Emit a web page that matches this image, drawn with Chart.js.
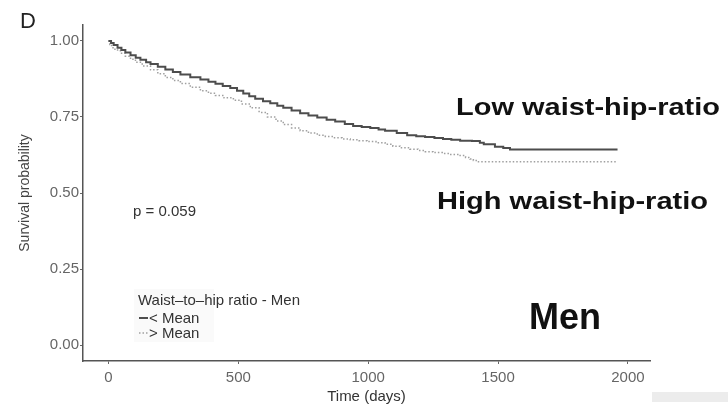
<!DOCTYPE html>
<html><head><meta charset="utf-8">
<script src="https://cdn.jsdelivr.net/npm/chart.js@4"></script>
<style>html,body{margin:0;padding:0;background:#fff}#wrap{width:728px;height:408px;position:relative}</style>
</head><body><div id="wrap"><canvas id="c" width="728" height="408"></canvas></div>
<script>
// Kaplan-Meier steps (time in days, survival probability)
const lowTimes  = [0, 10, 20, 35, 50, 65, 85, 105, 123, 145, 162, 190, 219, 248, 277, 315, 354, 385, 412, 440, 469, 495, 519, 542, 565, 595, 623, 650, 673, 705, 738, 770, 804, 840, 873, 910, 942, 975, 1008, 1040, 1065, 1110, 1150, 1185, 1219, 1255, 1288, 1320, 1354, 1400, 1430, 1445, 1488, 1520, 1546, 1960];
const lowSurv   = [1.000, 0.993, 0.987, 0.978, 0.970, 0.962, 0.953, 0.945, 0.938, 0.930, 0.924, 0.915, 0.906, 0.898, 0.890, 0.881, 0.873, 0.866, 0.859, 0.852, 0.845, 0.836, 0.827, 0.818, 0.810, 0.802, 0.795, 0.787, 0.780, 0.771, 0.762, 0.755, 0.748, 0.741, 0.735, 0.727, 0.720, 0.717, 0.714, 0.709, 0.705, 0.697, 0.690, 0.687, 0.684, 0.681, 0.678, 0.675, 0.672, 0.671, 0.665, 0.660, 0.652, 0.648, 0.643, 0.643];
const highTimes = [0, 5, 12, 25, 46, 65, 85, 104, 130, 162, 190, 219, 248, 277, 315, 354, 385, 412, 445, 481, 512, 546, 580, 612, 645, 673, 705, 738, 770, 804, 835, 865, 900, 931, 965, 996, 1030, 1065, 1095, 1123, 1160, 1192, 1220, 1250, 1285, 1315, 1354, 1375, 1392, 1405, 1419, 1960];
const highSurv  = [1.000, 0.988, 0.978, 0.970, 0.960, 0.950, 0.940, 0.930, 0.918, 0.905, 0.892, 0.880, 0.870, 0.860, 0.848, 0.836, 0.828, 0.821, 0.813, 0.805, 0.793, 0.780, 0.765, 0.750, 0.737, 0.725, 0.714, 0.705, 0.697, 0.690, 0.686, 0.682, 0.678, 0.675, 0.672, 0.669, 0.665, 0.660, 0.654, 0.649, 0.644, 0.640, 0.636, 0.633, 0.630, 0.627, 0.623, 0.617, 0.612, 0.607, 0.603, 0.603];
const xTicks = [0, 500, 1000, 1500, 2000];
const yTicks = [0, 0.25, 0.5, 0.75, 1.0];
const seriesNames = ["< Mean", "> Mean"];
const legendTitle = "Waist\u2013to\u2013hip ratio - Men";
const pText = "p = 0.059";
const panelLabel = "D";
const lowLabel = "Low waist-hip-ratio";
const highLabel = "High waist-hip-ratio";
const groupLabel = "Men";

const toPts = (t, s) => t.map((v, i) => ({x: v, y: s[i]}));
const FONT = "'Liberation Sans', Arial, Helvetica, sans-serif";

function wideText(ctx, text, x, y, targetW) {
  const w = ctx.measureText(text).width;
  ctx.save();
  ctx.translate(x, y);
  ctx.scale(targetW / w, 1);
  ctx.fillText(text, 0, 0);
  ctx.restore();
}

const annot = {
  id: 'annot',
  afterDraw(chart) {
    const ctx = chart.ctx;
    ctx.save();
    ctx.textBaseline = 'alphabetic';
    ctx.textAlign = 'left';
    // panel letter
    ctx.fillStyle = '#222';
    ctx.font = '22px ' + FONT;
    ctx.fillText(panelLabel, 20, 28);
    // big labels
    ctx.fillStyle = '#111';
    ctx.font = 'bold 24px ' + FONT;
    wideText(ctx, lowLabel, 456, 115, 264);
    wideText(ctx, highLabel, 437, 209, 271);
    ctx.font = 'bold 36px ' + FONT;
    ctx.fillText(groupLabel, 529, 329);
    // p value
    ctx.fillStyle = '#333';
    ctx.font = '15px ' + FONT;
    ctx.fillText(pText, 133, 216);
    // legend
    ctx.fillStyle = '#fafafa';
    ctx.fillRect(134, 289, 80, 53);
    ctx.fillStyle = '#333';
    ctx.font = '15px ' + FONT;
    ctx.fillText(legendTitle, 138, 305);
    const ds = chart.data.datasets;
    const rows = [323, 338];
    ds.forEach((d, i) => {
      ctx.save();
      ctx.strokeStyle = d.borderColor;
      ctx.lineWidth = d.borderWidth;
      ctx.setLineDash(d.borderDash || []);
      ctx.beginPath();
      ctx.moveTo(139, rows[i] - 5);
      ctx.lineTo(148, rows[i] - 5);
      ctx.stroke();
      ctx.restore();
      ctx.fillStyle = '#333';
      ctx.fillText(d.label, 149, rows[i]);
    });
    // light band bottom right
    ctx.fillStyle = '#ececec';
    ctx.fillRect(652, 392, 76, 10);
    ctx.restore();
  }
};

new Chart(document.getElementById('c'), {
  type: 'line',
  data: {
    datasets: [
      { label: seriesNames[0], data: toPts(lowTimes, lowSurv), stepped: 'before',
        borderColor: '#4d4d4d', borderWidth: 2, pointRadius: 0, fill: false },
      { label: seriesNames[1], data: toPts(highTimes, highSurv), stepped: 'before',
        borderColor: '#a0a0a0', borderWidth: 1.5, borderDash: [1.5, 2], pointRadius: 0, fill: false }
    ]
  },
  plugins: [annot],
  options: {
    responsive: false,
    animation: false,
    events: [],
    layout: { padding: { left: 0, right: 78, top: 25, bottom: 0 } },
    plugins: { legend: { display: false }, tooltip: { enabled: false } },
    scales: {
      x: {
        type: 'linear', min: -98, max: 2085,
        afterBuildTicks: s => { s.ticks = xTicks.map(v => ({value: v})); },
        afterFit: s => { s.height = 47; },
        grid: { drawOnChartArea: false, drawTicks: true, tickLength: 3, color: '#666' },
        border: { display: true, color: '#555', width: 1.5 },
        ticks: { color: '#666', font: { family: FONT, size: 15 }, padding: 5, maxRotation: 0,
          callback: v => String(v) },
        title: { display: true, text: 'Time (days)', color: '#333', font: { family: FONT, size: 15 }, padding: { top: 0, bottom: 2 } }
      },
      y: {
        type: 'linear', min: -0.0525, max: 1.0525,
        afterBuildTicks: s => { s.ticks = yTicks.map(v => ({value: v})); },
        afterFit: s => { s.width = 83; },
        grid: { drawOnChartArea: false, drawTicks: true, tickLength: 3, color: '#666' },
        border: { display: true, color: '#555', width: 1.5 },
        ticks: { color: '#666', font: { family: FONT, size: 15 }, padding: 1,
          callback: v => v.toFixed(2) },
        title: { display: true, text: 'Survival probability', color: '#444', font: { family: FONT, size: 14 }, padding: { top: 17, bottom: 0 } }
      }
    }
  }
});
</script>
</body></html>
